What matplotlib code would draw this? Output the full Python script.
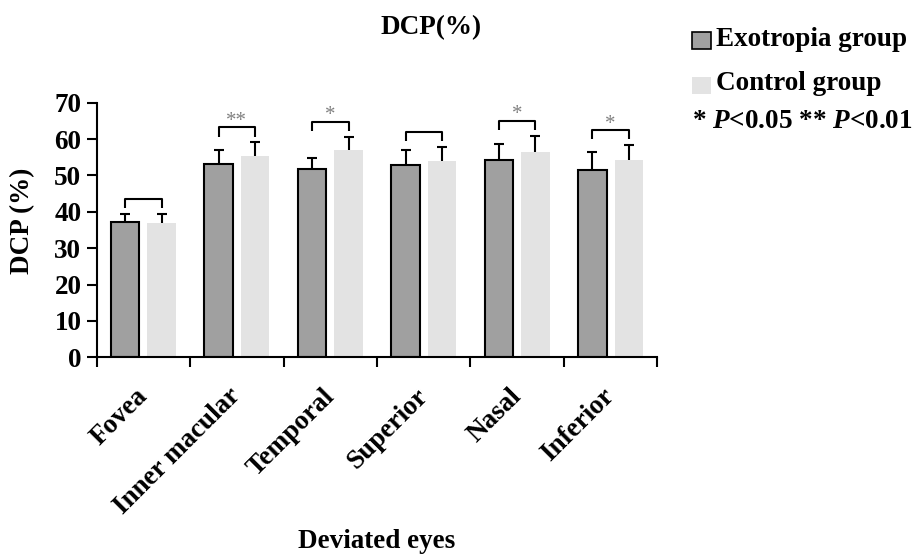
import numpy as np
import matplotlib
matplotlib.use("Agg")
import matplotlib.pyplot as plt
from matplotlib.patches import Rectangle
from matplotlib.transforms import ScaledTranslation

plt.rcParams['font.family'] = ['Liberation Serif', 'DejaVu Serif']
plt.rcParams['font.weight'] = 'bold'
plt.rcParams['mathtext.fontset'] = 'custom'
plt.rcParams['mathtext.bfit'] = 'Liberation Serif:italic:bold'
plt.rcParams['mathtext.it'] = 'Liberation Serif:italic:bold'
plt.rcParams['mathtext.rm'] = 'Liberation Serif:bold'

# === Data ===
regions = ["Fovea", "Inner macular", "Temporal", "Superior", "Nasal", "Inferior"]
exo_mean = [37.1, 53.1, 51.8, 52.9, 54.2, 51.4]
exo_sd = [2.2, 3.8, 2.9, 4.2, 4.4, 5.0]
ctrl_mean = [36.9, 55.4, 57.1, 54.1, 56.5, 54.2]
ctrl_sd = [2.6, 3.7, 3.5, 3.8, 4.3, 4.1]
signif = ["", "**", "*", "", "*", "*"]

exo_color = "#a0a0a0"
ctrl_color = "#e3e3e3"
fs = 19.5

fig = plt.figure(figsize=(9.21, 5.56), dpi=100)
ax = fig.add_axes([0.105, 0.3574, 0.6087, 0.4579])

x = np.arange(len(regions))
w = 0.305
off = 0.195
lw = 1.5

ax.bar(x - off, exo_mean, w, color=exo_color, edgecolor="black", linewidth=lw, zorder=2)
ax.bar(x + off, ctrl_mean, w, color=ctrl_color, linewidth=0, zorder=2)

# one-sided (upper) error bars
for xs, m, sd in [(x - off, exo_mean, exo_sd), (x + off, ctrl_mean, ctrl_sd)]:
    tops = np.array(m) + np.array(sd)
    ax.vlines(xs, m, tops, color="black", lw=lw, zorder=3)
    ax.plot(xs, tops, ls="none", marker="_", ms=7, mew=lw, color="black", zorder=3)

# brackets + stars
for i in range(len(x)):
    top = max(exo_mean[i] + exo_sd[i], ctrl_mean[i] + ctrl_sd[i]) + 4.1
    ax.plot([x[i] - off, x[i] - off, x[i] + off, x[i] + off],
            [top - 2.5, top, top, top - 2.5], color="black", lw=lw,
            solid_capstyle="butt", zorder=3)
    if signif[i]:
        ax.text(x[i], top + 0.5, signif[i], ha="center", va="baseline",
                fontsize=15, color="#808080", fontweight="normal")

ax.set_xlim(-0.5, len(x) - 0.5)
ax.set_ylim(0, 70)
ax.set_yticks(range(0, 71, 10))
ax.tick_params(axis="y", direction="out", length=7, width=lw, labelsize=fs, pad=4)

# category boundaries as outward ticks, labels at centres
ax.set_xticks(x)
ax.set_xticks(np.arange(-0.5, len(x), 1), minor=True)
ax.tick_params(axis="x", which="major", length=0, pad=19)
ax.tick_params(axis="x", which="minor", direction="out", length=7, width=lw)
ax.set_xticklabels(regions, rotation=45, ha="right", fontsize=fs)
shift = ScaledTranslation(9 / 100, 0, fig.dpi_scale_trans)
for lab in ax.get_xticklabels():
    lab.set_transform(lab.get_transform() + shift)

for s in ["top", "right"]:
    ax.spines[s].set_visible(False)
for s in ["left", "bottom"]:
    ax.spines[s].set_linewidth(lw)

fig.text(23 / 921, 1 - 221 / 556, "DCP (%)", rotation=90, ha="center", va="center", fontsize=fs)
fig.text(377 / 921, 1 - 541 / 556, "Deviated eyes", ha="center", va="center", fontsize=fs)
fig.text(431.5 / 921, 1 - 28 / 556, "DCP(%)", ha="center", va="center", fontsize=fs)

# legend drawn by hand
fig.add_artist(Rectangle((692 / 921, 1 - 49 / 556), 19 / 921, 17 / 556,
                         transform=fig.transFigure, facecolor=exo_color,
                         edgecolor="black", linewidth=1.2))
fig.text(716 / 921, 1 - 40 / 556, "Exotropia group", ha="left", va="center", fontsize=fs)
fig.add_artist(Rectangle((692 / 921, 1 - 94 / 556), 19 / 921, 17 / 556,
                         transform=fig.transFigure, facecolor=ctrl_color,
                         edgecolor="none"))
fig.text(716 / 921, 1 - 84 / 556, "Control group", ha="left", va="center", fontsize=fs)
fig.text(692 / 921, 1 - 121 / 556, r"* $\mathbfit{P}$<0.05 ** $\mathbfit{P}$<0.01",
         ha="left", va="center", fontsize=fs)

fig.savefig("out.png", dpi=100)
